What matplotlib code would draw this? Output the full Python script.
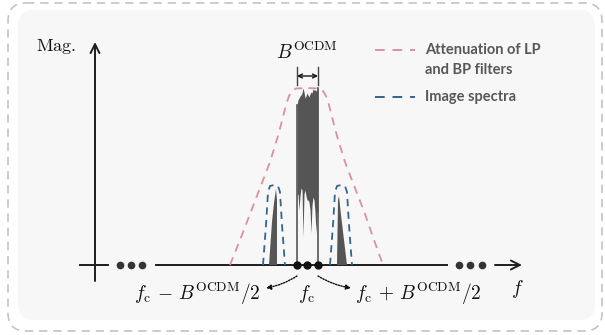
import numpy as np
import matplotlib.pyplot as plt
from matplotlib.patches import FancyBboxPatch, Polygon, FancyArrowPatch

plt.rcParams['mathtext.fontset'] = 'cm'

# esquema dibujado en coordenadas de "pixel" (x a la derecha, y hacia abajo)
eje_y = 265          # nivel del eje de frecuencia
x_ejey = 95

# espectro central (OCDM)
central_x = [297, 298, 299, 300, 301, 302, 303, 304, 305, 306, 307,
             308, 309, 310, 311, 312, 313, 314, 315, 316, 317, 318]
central_sup = [105, 100, 98, 96, 95, 93, 88, 92, 98, 96, 93,
               95, 97, 94, 92, 93, 89, 90, 90, 91, 89, 88]
central_inf = [195, 194, 210, 196, 188, 190, 237, 194, 190, 196, 200,
               200, 202, 210, 233, 205, 197, 200, 212, 233, 213, 212]

# espectros imagen (relleno)
img_izq_x = [269, 272, 274, 276, 277, 277]
img_izq_y = [265, 222, 203, 189, 200, 265]
img_der_x = [337, 338, 339, 341, 344, 347]
img_der_y = [265, 200, 196, 215, 240, 265]

# atenuacion de los filtros LP y BP (discontinua roja)
filtro_x = [230, 240, 250, 260, 270, 278, 283, 286, 289, 292, 296, 307, 319, 323,
            326, 329, 332, 337, 345, 355, 365, 374, 383]
filtro_y = [265, 240, 214, 188, 162, 136, 117, 105, 96, 91, 88.5, 88, 88.5, 91,
            96, 105, 117, 136, 162, 188, 214, 240, 265]

# envolventes de los espectros imagen (discontinua azul)
env_izq_x = [263, 266, 268, 270, 274, 278, 280, 282, 285]
env_der_x = [330, 333, 335, 337, 341, 345, 347, 349, 352]
env_y = [265, 225, 192, 186, 185, 186, 192, 225, 265]

marcas_f = [297, 307, 318]   # fc - B/2, fc, fc + B/2

c_rojo = '#d9929b'
c_azul = '#336590'
c_gris = '#555555'
c_eje = '#1e1e1e'

fig = plt.figure(figsize=(6.05, 3.35), dpi=100)
ax = fig.add_axes([0, 0, 1, 1])
ax.set_xlim(0, 605)
ax.set_ylim(335, 0)
ax.axis('off')

# fondo y marco discontinuo
ax.add_patch(FancyBboxPatch((18, 10), 577, 310, boxstyle='round,pad=0,rounding_size=16',
                            fc='#f7f7f7', ec='none', zorder=0))
ax.add_patch(FancyBboxPatch((8, 3), 594, 328, boxstyle='round,pad=0,rounding_size=18',
                            fc='none', ec='#c4c4c4', lw=1.2, ls=(0, (5, 3.5)), zorder=0))

# ejes
ax.annotate('', xy=(x_ejey, 42), xytext=(x_ejey, 281),
            arrowprops=dict(arrowstyle='->', lw=1.4, color=c_eje, mutation_scale=16,
                            shrinkA=0, shrinkB=0))
ax.plot([80, 108], [eje_y, eje_y], color=c_eje, lw=1.4)
ax.plot([156, 447], [eje_y, eje_y], color=c_eje, lw=1.4)
ax.annotate('', xy=(522, eje_y), xytext=(495, eje_y),
            arrowprops=dict(arrowstyle='->', lw=1.4, color=c_eje, mutation_scale=16,
                            shrinkA=0, shrinkB=0))
ax.plot([120, 131, 142], [eje_y] * 3, 'o', color='#333333', ms=4.5)
ax.plot([459, 470, 482], [eje_y] * 3, 'o', color='#333333', ms=4.5)

# espectro central
ax.fill_between(central_x, central_sup, central_inf, color=c_gris, lw=0, zorder=2)
ax.plot([central_x[0]] * 2, [central_sup[0], eje_y], color=c_gris, lw=1.2, zorder=2)
ax.plot([central_x[-1]] * 2, [central_sup[-1], eje_y], color=c_gris, lw=1.2, zorder=2)

# espectros imagen
ax.add_patch(Polygon(np.column_stack([img_izq_x, img_izq_y]), fc=c_gris, ec='none', zorder=2))
ax.add_patch(Polygon(np.column_stack([img_der_x, img_der_y]), fc=c_gris, ec='none', zorder=2))

# curvas discontinuas
ax.plot(filtro_x, filtro_y, color=c_rojo, lw=1.3, ls=(0, (4.5, 3.5)), zorder=3)
ax.plot(env_izq_x, env_y, color=c_azul, lw=1.3, ls=(0, (4, 3)), zorder=3)
ax.plot(env_der_x, env_y, color=c_azul, lw=1.3, ls=(0, (4, 3)), zorder=3)

ax.plot(marcas_f, [eje_y] * 3, 'o', color='#111111', ms=5, zorder=4)

# ancho de banda B^OCDM
for xb in (marcas_f[0], marcas_f[2]):
    ax.plot([xb, xb], [67, 85], color='#444444', lw=1)
ax.annotate('', xy=(marcas_f[0], 76), xytext=(marcas_f[2], 76),
            arrowprops=dict(arrowstyle='<->', lw=1, color='#111111', mutation_scale=7,
                            shrinkA=0, shrinkB=0))
ax.text(307, 52, r'$B^{\mathrm{OCDM}}$', fontsize=14, ha='center', va='center', color='#111111')

# flechas punteadas
ax.add_patch(FancyArrowPatch((297, 276), (266, 288), arrowstyle='-|>', mutation_scale=7,
                             lw=1, ls=(0, (1, 1)), color='#111111',
                             connectionstyle='arc3,rad=-0.1', shrinkA=0, shrinkB=0))
ax.add_patch(FancyArrowPatch((318, 276), (351, 288), arrowstyle='-|>', mutation_scale=7,
                             lw=1, ls=(0, (1, 1)), color='#111111',
                             connectionstyle='arc3,rad=0.1', shrinkA=0, shrinkB=0))

# etiquetas
ax.text(56, 47, r'$\mathrm{Mag.}$', fontsize=13, ha='center', va='center', color='#111111')
ax.text(197, 294, r'$f_{\mathrm{c}}\,-\,B^{\mathrm{OCDM}}/2$', fontsize=14, ha='center', va='center', color='#111111')
ax.text(307, 294, r'$f_{\mathrm{c}}$', fontsize=14, ha='center', va='center', color='#111111')
ax.text(418, 294, r'$f_{\mathrm{c}}\,+\,B^{\mathrm{OCDM}}/2$', fontsize=14, ha='center', va='center', color='#111111')
ax.text(517, 289, r'$f$', fontsize=14, ha='center', va='center', color='#111111')

# leyenda
ley = dict(fontsize=10.5, fontfamily='Lato', fontweight='bold', color='#585858',
           ha='left', va='center')
ax.plot([375, 415], [50, 50], color=c_rojo, lw=1.4, ls=(0, (5, 4)))
ax.plot([375, 415], [97, 97], color=c_azul, lw=1.4, ls=(0, (5, 4)))
ax.text(425, 50, 'Attenuation of LP', **ley)
ax.text(425, 70, 'and BP filters', **ley)
ax.text(425, 97, 'Image spectra', **ley)

fig.savefig('out.png', dpi=100)
